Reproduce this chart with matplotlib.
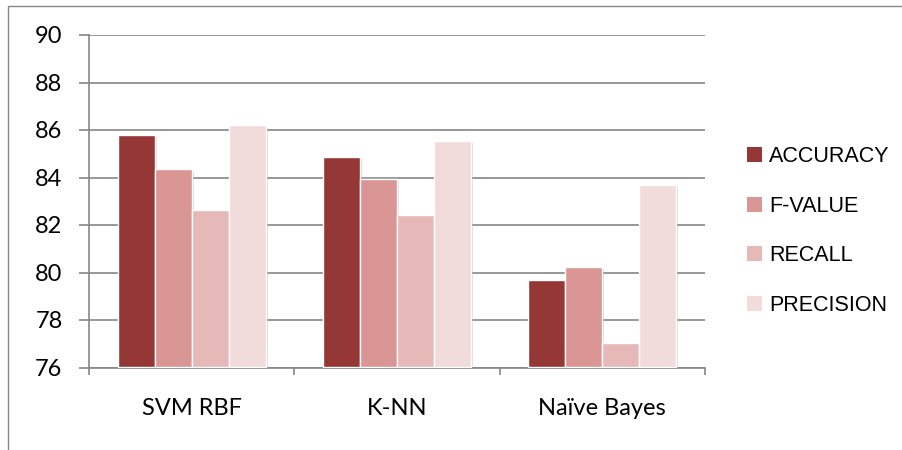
import numpy as np
import matplotlib.pyplot as plt
from matplotlib.patches import Patch, Rectangle
from matplotlib import patheffects as pe

classifiers = ["SVM RBF", "K-NN", "Naïve Bayes"]
metrics = ["ACCURACY", "F-VALUE", "RECALL", "PRECISION"]
accuracy = [85.8, 84.85, 79.7]
f_value = [84.35, 83.95, 80.25]
recall = [82.65, 82.4, 77.05]
precision = [86.2, 85.55, 83.7]
colors = ["#953735", "#D99694", "#E6B9B8", "#F2DCDB"]

yticks = [76, 78, 80, 82, 84, 86, 88, 90]

grey = "#868686"

fig = plt.figure(figsize=(9.03, 4.5), dpi=100)
ax = fig.add_axes([89 / 903, 1 - 367.5 / 450, (705 - 89) / 903, (367.5 - 35) / 450])

# outer chart border (left and top visible)
fig.patches.append(Rectangle((8 / 903, -0.1), 1.2, 1 - 6 / 450 + 0.1,
                             transform=fig.transFigure, fill=False,
                             edgecolor=grey, lw=1.0))

x = np.arange(len(classifiers))
w = 0.18
series = [accuracy, f_value, recall, precision]
shadow = [pe.SimplePatchShadow(offset=(1.5, -1.5), shadow_rgbFace="#999999", alpha=0.35),
          pe.Normal()]
for i, (vals, c) in enumerate(zip(series, colors)):
    bars = ax.bar(x + (i - 1.5) * w, np.array(vals) - 76, bottom=76, width=w,
                  color=c, edgecolor="white", linewidth=1.0, zorder=3)
    for b in bars:
        b.set_path_effects(shadow)

ax.set_xlim(-0.5, 2.5)
ax.set_ylim(76, 90)
ax.set_yticks(yticks)
ax.set_yticklabels([str(t) for t in yticks])
ax.yaxis.grid(True, color=grey, lw=1.2, zorder=0)
ax.set_axisbelow(True)

ax.set_xticks(x)
ax.set_xticklabels(classifiers)
ax.set_xticks([-0.5, 0.5, 1.5, 2.5], minor=True)
ax.tick_params(axis="x", which="major", length=0, pad=22)
ax.tick_params(axis="x", which="minor", length=5, color=grey, width=1.2)
ax.tick_params(axis="y", length=7, color=grey, width=1.2, pad=12)

for lab in ax.get_xticklabels() + ax.get_yticklabels():
    lab.set_fontfamily("Lato")
    lab.set_fontsize(17)

for s in ["top", "right"]:
    ax.spines[s].set_visible(False)
for s in ["left", "bottom"]:
    ax.spines[s].set_color(grey)
    ax.spines[s].set_linewidth(1.2)

handles = [Patch(facecolor=c, edgecolor="none") for c in colors]
fig.legend(handles, metrics, loc="center left", bbox_to_anchor=(747 / 903, 1 - 231 / 450),
           frameon=False, borderpad=0, borderaxespad=0, handlelength=0.68,
           handleheight=0.68, handletextpad=0.36, labelspacing=1.33,
           prop={"family": "Liberation Sans", "size": 15.5})

fig.savefig("out.png", dpi=100)
